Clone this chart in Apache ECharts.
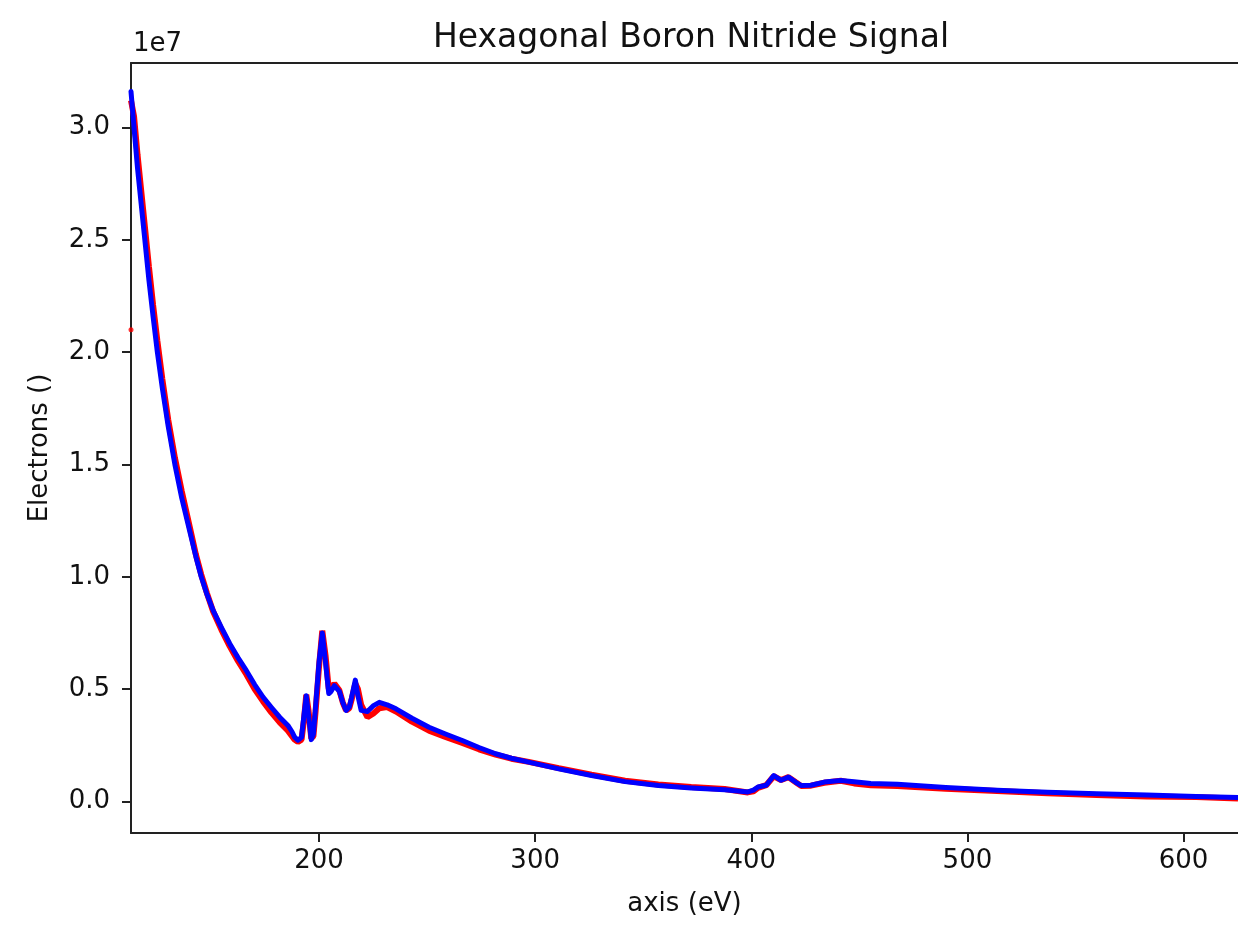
<!DOCTYPE html>
<html>
<head>
<meta charset="utf-8">
<script src="https://cdn.jsdelivr.net/npm/echarts@6/dist/echarts.min.js"></script>
<style>
html,body{margin:0;padding:0;background:#fff;}
#chart{width:1238px;height:926px;}
</style>
</head>
<body>
<div id="chart"></div>
<script>
// Energy loss axis (eV)
const energy = [113.0,114.4,116.0,117.7,119.4,121.3,123.2,125.2,127.5,130.2,133.3,136.5,140.0,143.0,145.5,148.2,151.0,154.8,158.7,162.5,166.4,170.2,174.1,178.0,181.8,185.6,187.5,188.7,190.2,191.9,193.0,194.1,195.2,196.4,197.4,198.4,200.0,201.5,203.0,204.5,205.6,207.1,209.4,211.0,212.5,214.0,215.0,216.8,218.0,219.5,222.4,225.0,227.9,231.5,235.6,243.0,250.9,258.5,266.3,274.0,281.7,289.0,297.0,310.9,326.1,341.6,357.0,372.2,387.7,398.4,401.0,403.1,406.9,410.4,413.8,417.2,420.6,423.0,427.6,433.8,441.4,447.6,455.3,467.6,490.0,513.7,537.0,559.8,583.0,605.9,625.2];
// Measured signal (units of 1e7 electrons)
const signalData = [3.12,3.05,2.88,2.72,2.56,2.38,2.21,2.05,1.88,1.70,1.53,1.38,1.23,1.10,1.01,0.925,0.845,0.765,0.69,0.625,0.565,0.50,0.445,0.395,0.352,0.315,0.29,0.275,0.265,0.275,0.36,0.475,0.40,0.28,0.29,0.40,0.60,0.76,0.65,0.50,0.50,0.525,0.495,0.44,0.405,0.415,0.45,0.525,0.50,0.43,0.375,0.39,0.415,0.42,0.40,0.355,0.315,0.287,0.26,0.232,0.208,0.19,0.176,0.148,0.119,0.092,0.075,0.064,0.055,0.040,0.045,0.060,0.072,0.112,0.095,0.108,0.085,0.069,0.070,0.083,0.092,0.080,0.072,0.068,0.056,0.046,0.036,0.028,0.022,0.019,0.013];
// Model fit (units of 1e7 electrons)
const modelFit = [3.16,3.00,2.82,2.66,2.50,2.32,2.16,2.00,1.84,1.67,1.50,1.35,1.21,1.09,1.00,0.92,0.85,0.775,0.702,0.64,0.582,0.52,0.464,0.418,0.375,0.338,0.31,0.286,0.272,0.285,0.38,0.47,0.38,0.275,0.30,0.42,0.62,0.75,0.62,0.48,0.49,0.515,0.49,0.44,0.405,0.42,0.46,0.54,0.47,0.405,0.40,0.425,0.441,0.43,0.412,0.37,0.330,0.30,0.271,0.24,0.212,0.192,0.175,0.145,0.115,0.088,0.071,0.060,0.052,0.042,0.050,0.064,0.072,0.115,0.094,0.108,0.085,0.071,0.072,0.086,0.093,0.087,0.080,0.076,0.062,0.050,0.041,0.034,0.028,0.022,0.017];
// First (outlier) data point
const outlierE = [113.0];
const outlierV = [2.10];
const xTicks = [200,300,400,500,600];
const yTicks = [0,0.5,1.0,1.5,2.0,2.5,3.0];

const font = 'DejaVu Sans';
const ink = '#111';
const spine = '#222';
const zip = (xs, ys) => xs.map((x, i) => [x, ys[i]]);

const chart = echarts.init(document.getElementById('chart'), null, {renderer: 'canvas'});
chart.setOption({
  animation: false,
  backgroundColor: '#fff',
  title: {
    text: 'Hexagonal Boron Nitride Signal',
    left: 686, textAlign: 'center', top: 17,
    textStyle: {fontFamily: font, fontSize: 33, fontWeight: 'normal', color: ink}
  },
  grid: {left: 131, top: 63, width: 1111, bottom: 93, show: false},
  graphic: [{
    type: 'text', left: 133, top: 31,
    style: {text: '1e7', font: '26px "DejaVu Sans"', fill: ink}
  }],
  xAxis: [{
    type: 'value', min: 113.0, max: 625.2, position: 'bottom',
    name: 'axis (eV)', nameLocation: 'middle', nameGap: 58,
    nameTextStyle: {fontFamily: font, fontSize: 26, color: ink},
    axisLine: {show: true, onZero: false, lineStyle: {color: spine, width: 2}},
    axisTick: {show: true, length: 9, customValues: xTicks, lineStyle: {color: spine, width: 2}},
    axisLabel: {customValues: xTicks, margin: 15, fontFamily: font, fontSize: 26, color: ink,
      formatter: v => String(v)},
    splitLine: {show: false}
  }, {
    type: 'value', min: 113.0, max: 625.2, position: 'top',
    axisLine: {show: true, onZero: false, lineStyle: {color: spine, width: 2}},
    axisTick: {show: false}, axisLabel: {show: false}, splitLine: {show: false}
  }],
  yAxis: {
    type: 'value', min: -0.1407, max: 3.287,
    name: 'Electrons ()', nameLocation: 'middle', nameGap: 78, nameRotate: 90,
    nameTextStyle: {fontFamily: font, fontSize: 26, color: ink},
    axisLine: {show: true, onZero: false, lineStyle: {color: spine, width: 2}},
    axisTick: {show: true, length: 9, customValues: yTicks, lineStyle: {color: spine, width: 2}},
    axisLabel: {customValues: yTicks, margin: 21, fontFamily: font, fontSize: 26, color: ink,
      formatter: v => v.toFixed(1)},
    splitLine: {show: false}
  },
  series: [
    {
      type: 'line', data: zip(energy, signalData), showSymbol: false,
      lineStyle: {color: '#ff0000', width: 6}, z: 2, clip: true
    },
    {
      type: 'scatter', data: zip(outlierE, outlierV), symbolSize: 5,
      itemStyle: {color: '#ff0000'}, z: 2
    },
    {
      type: 'line', data: zip(energy, modelFit), showSymbol: false,
      lineStyle: {color: '#0000ff', width: 5, join: 'round', cap: 'round'}, z: 3, clip: true
    }
  ]
});
</script>
</body>
</html>
